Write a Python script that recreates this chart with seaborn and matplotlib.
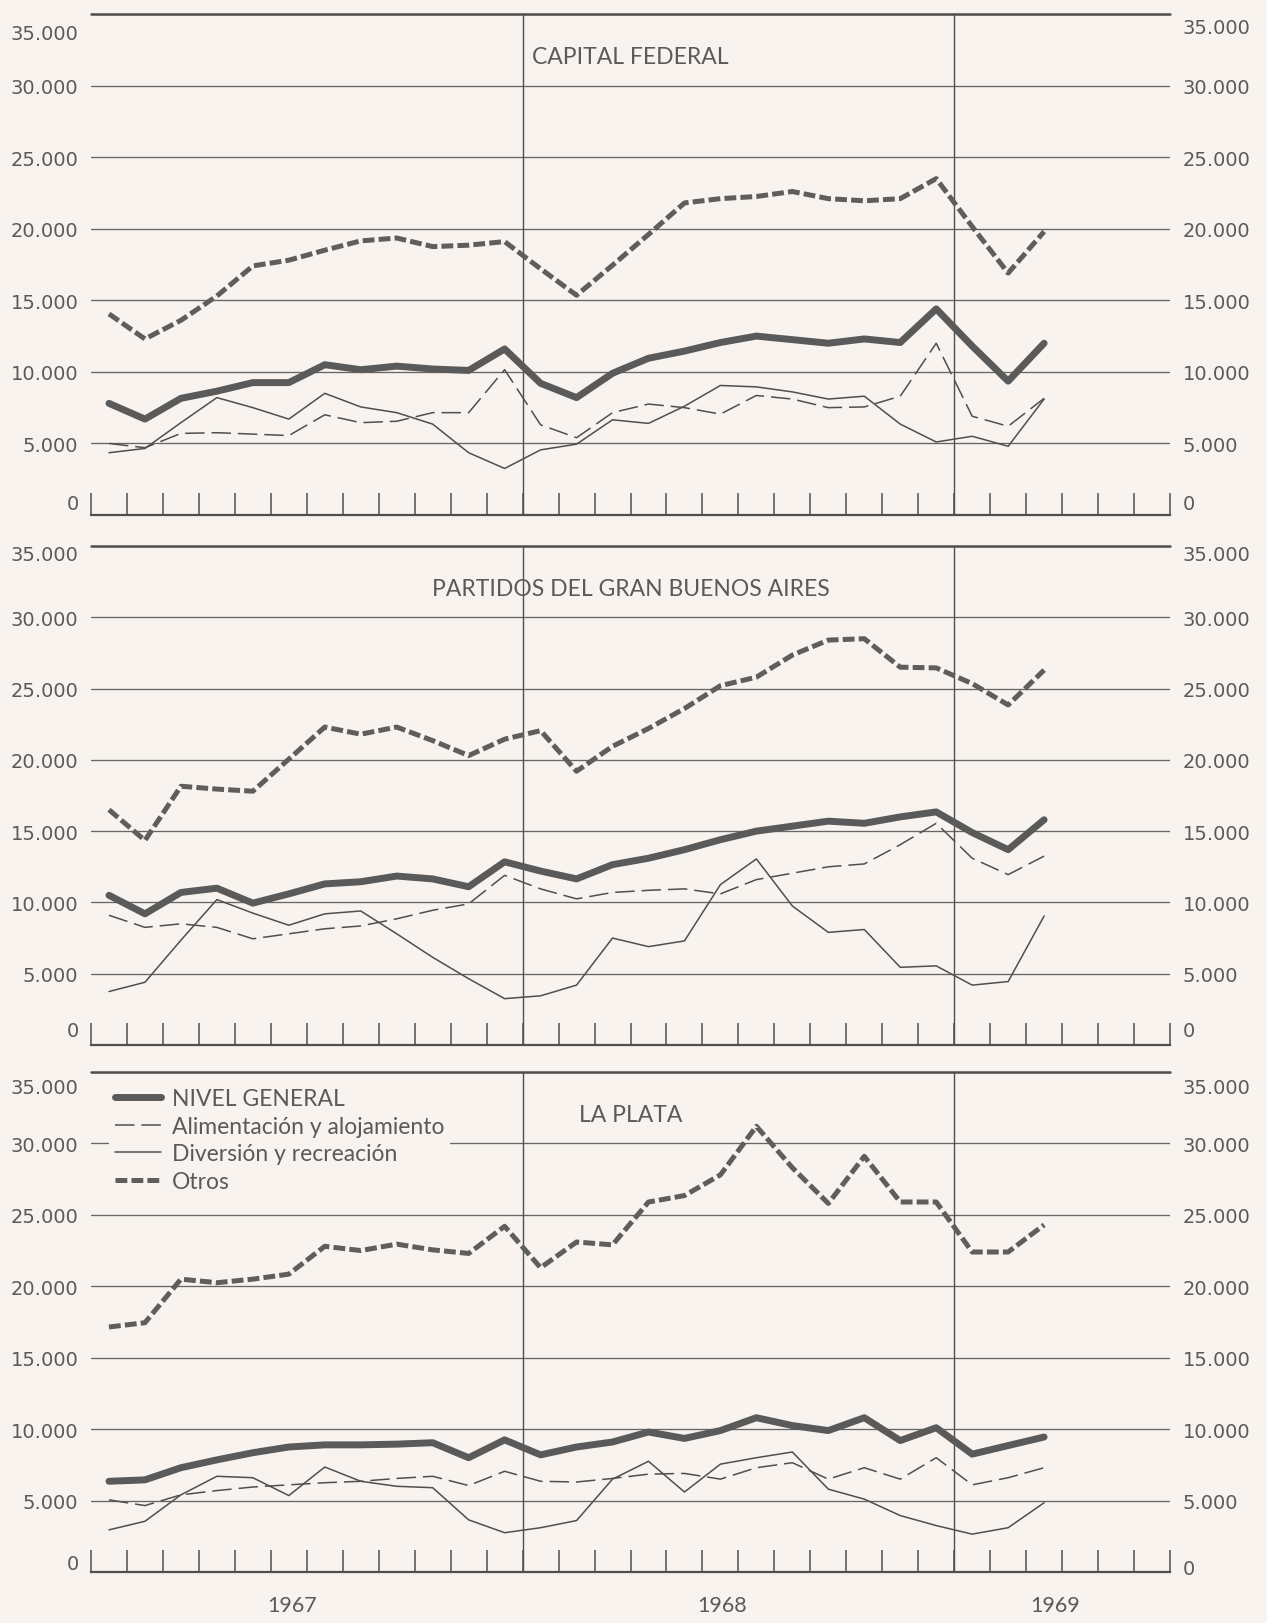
import numpy as np
import pandas as pd
import matplotlib
matplotlib.use("Agg")
import matplotlib.pyplot as plt
import matplotlib.transforms as mtransforms
import seaborn as sns

# ---------------- data ----------------
months = pd.period_range("1967-01", "1969-03", freq="M")

series_names = ["NIVEL GENERAL", "Alimentación y alojamiento",
                "Diversión y recreación", "Otros"]
panel_titles = ["CAPITAL FEDERAL", "PARTIDOS DEL GRAN BUENOS AIRES", "LA PLATA"]
year_labels = ["1967", "1968", "1969"]
y_ticks = [0, 5000, 10000, 15000, 20000, 25000, 30000, 35000]
y_tick_labels = ["0", "5.000", "10.000", "15.000", "20.000", "25.000", "30.000", "35.000"]

# Capital Federal
cf_nivel = [7800, 6700, 8150, 8650, 9250, 9250, 10500, 10150, 10400, 10200, 10100, 11600, 9200, 8200,
            9900, 10950, 11450, 12050, 12500, 12250, 12000, 12300, 12050, 14400, 11800, 9350, 12000]
cf_alim = [5000, 4700, 5700, 5750, 5650, 5550, 7000, 6450, 6550, 7150, 7150, 10150, 6300, 5400,
           7150, 7750, 7500, 7050, 8350, 8100, 7500, 7550, 8300, 12000, 6900, 6200, 8150]
cf_div = [4350, 4650, 6450, 8200, 7500, 6700, 8500, 7550, 7150, 6350, 4350, 3250, 4550, 4950,
          6650, 6400, 7600, 9050, 8950, 8600, 8100, 8300, 6350, 5100, 5500, 4800, 8100]
cf_otros = [14050, 12300, 13600, 15300, 17400, 17800, 18500, 19150, 19350, 18750, 18850, 19100, 17200, 15350,
            17450, 19600, 21800, 22100, 22250, 22600, 22100, 21950, 22100, 23500, 20150, 16900, 19800]

# Partidos del Gran Buenos Aires
gba_nivel = [10500, 9200, 10700, 11000, 9950, 10600, 11300, 11450, 11850, 11650, 11100, 12850, 12200, 11650,
             12650, 13100, 13700, 14400, 15000, 15350, 15700, 15550, 16000, 16350, 14900, 13700, 15800]
gba_alim = [9100, 8250, 8500, 8250, 7450, 7800, 8150, 8350, 8850, 9450, 9900, 11900, 10950, 10250,
            10700, 10850, 10950, 10600, 11600, 12050, 12500, 12700, 14050, 15550, 13100, 11950, 13250]
gba_div = [3750, 4400, 7350, 10200, 9250, 8400, 9200, 9400, 7800, 6150, 4650, 3250, 3450, 4200,
           7500, 6900, 7300, 11250, 13050, 9750, 7900, 8100, 5450, 5550, 4200, 4450, 9050]
gba_otros = [16500, 14350, 18150, 17950, 17800, 20050, 22300, 21800, 22300, 21350, 20300, 21450, 22050, 19200,
             20950, 22200, 23600, 25200, 25800, 27350, 28400, 28500, 26500, 26450, 25350, 23850, 26300]

# La Plata
lp_nivel = [6350, 6450, 7300, 7850, 8350, 8750, 8900, 8900, 8950, 9050, 8000, 9250, 8200, 8750,
            9100, 9800, 9350, 9900, 10800, 10250, 9900, 10800, 9200, 10100, 8250, 8850, 9450]
lp_alim = [5050, 4650, 5400, 5700, 5950, 6100, 6250, 6350, 6550, 6700, 6050, 7050, 6350, 6300,
           6550, 6850, 6900, 6500, 7300, 7650, 6500, 7300, 6500, 8000, 6100, 6600, 7300]
lp_div = [2950, 3550, 5400, 6700, 6600, 5350, 7350, 6350, 6000, 5900, 3650, 2750, 3100, 3600,
          6500, 7750, 5600, 7550, 8000, 8400, 5800, 5100, 3950, 3250, 2650, 3100, 4850]
lp_otros = [17150, 17450, 20500, 20250, 20500, 20850, 22800, 22500, 22950, 22550, 22300, 24200, 21300, 23100,
            22900, 25900, 26350, 27800, 31200, 28300, 25800, 29100, 25900, 25900, 22400, 22400, 24300]

panels = [
    [cf_nivel, cf_alim, cf_div, cf_otros],
    [gba_nivel, gba_alim, gba_div, gba_otros],
    [lp_nivel, lp_alim, lp_div, lp_otros],
]

# ---------------- style ----------------
sns.set_theme(style="white")
plt.rcParams["font.family"] = ["DejaVu Sans"]
plt.rcParams["lines.scale_dashes"] = False

PAPER = "#f8f3ee"
INK = "#4f4f4f"
TXT = "#5a5a5a"
GRID = "#666666"
TITLE_FONT = ["Lato", "DejaVu Sans"]

line_styles = {
    "NIVEL GENERAL": dict(lw=5.0, dashes=None, color="#5a5a5a"),
    "Alimentación y alojamiento": dict(lw=1.1, dashes=(14, 5), color=INK),
    "Diversión y recreación": dict(lw=1.1, dashes=None, color=INK),
    "Otros": dict(lw=3.6, dashes=(8.5, 3), color="#5e5e5e"),
}
draw_order = ["Diversión y recreación", "Alimentación y alojamiento", "NIVEL GENERAL", "Otros"]

W, H = 1267, 1624
fig = plt.figure(figsize=(W / 100, H / 100), dpi=100, facecolor=PAPER)

left_px, right_px = 91, 1170
panel_px = [(15, 516), (547, 1046), (1073, 1573)]
left_top_dy = [18, 7, 14]
left_zero_dy = [-14, -16, -10]
right_top_dy = [12, 7, 14]
right_zero_dy = [-13, -16, -5]

x_month = np.array([(p.year - 1967) * 12 + (p.month - 1) for p in months]) + 0.5

axes = []
for k, (top, bot) in enumerate(panel_px):
    ax = fig.add_axes([left_px / W, 1 - bot / H, (right_px - left_px) / W, (bot - top) / H])
    ax.set_facecolor(PAPER)
    axes.append(ax)
    df = pd.DataFrame({"mes": x_month})
    for name, vals in zip(series_names, panels[k]):
        df[name] = vals

    for name in draw_order:
        st = line_styles[name]
        sns.lineplot(data=df, x="mes", y=name, ax=ax, color=st["color"],
                     linewidth=st["lw"], label=name, legend=False,
                     solid_capstyle="round", solid_joinstyle="round")
        ln = ax.lines[-1]
        if st["dashes"] is not None:
            ln.set_dashes(st["dashes"])
            ln.set_dash_capstyle("butt")
        ln.set_zorder(3)

    ax.set_xlim(0, 30)
    ax.set_ylim(0, 35000)
    ax.set_xlabel("")
    ax.set_ylabel("")

    for s in ["left", "right", "top"]:
        ax.spines[s].set_visible(False)
    ax.spines["bottom"].set_color(INK)
    ax.spines["bottom"].set_linewidth(1.6)

    ax.set_yticks(y_ticks)
    ax.set_yticklabels(y_tick_labels)
    ax.grid(axis="y", color=GRID, linewidth=0.95)
    ax.grid(axis="x", visible=False)
    ax.axhline(35000, color=INK, linewidth=1.8, clip_on=False, zorder=2)
    for xv in (12, 24):
        ax.axvline(xv, color=INK, linewidth=1.0, zorder=2)

    ax.set_xticks(np.arange(0, 31))
    ax.tick_params(axis="x", direction="in", length=16, width=1.1, color=INK,
                   labelbottom=False, bottom=True)
    ax.tick_params(axis="y", left=False, right=False, length=0, labelleft=True, labelright=True,
                   pad=9, labelsize=14, labelcolor=TXT)

    # offset the extreme labels as in the original print
    ticks = ax.yaxis.get_major_ticks()
    def shift(lbl, dy_px):
        lbl.set_transform(lbl.get_transform() +
                          mtransforms.ScaledTranslation(0, -dy_px / 100, fig.dpi_scale_trans))
    shift(ticks[-1].label1, left_top_dy[k])
    shift(ticks[0].label1, left_zero_dy[k])
    shift(ticks[-1].label2, right_top_dy[k])
    shift(ticks[0].label2, right_zero_dy[k])

    ax.text(0.5, 0.915, panel_titles[k], transform=ax.transAxes, ha="center", va="center",
            fontsize=16.5, color=TXT, family=TITLE_FONT)

# legend in La Plata panel (paper-coloured box interrupts the gridline, as in the print)
ax3 = axes[2]
handles = {ln.get_label(): ln for ln in ax3.lines if ln.get_label() in series_names}
leg = ax3.legend([handles[n] for n in series_names], series_names, loc="upper left",
                 bbox_to_anchor=(0.0167, 0.98), frameon=True, borderpad=0.25, borderaxespad=0,
                 handlelength=2.0, handletextpad=0.5, labelspacing=0.3,
                 prop={"family": TITLE_FONT, "size": 16.5})
frame = leg.get_frame()
frame.set_facecolor(PAPER)
frame.set_edgecolor("none")
frame.set_alpha(1)
frame.set_boxstyle("square", pad=0)
for t in leg.get_texts():
    t.set_color(TXT)

# year labels
year_x = [5.6, 17.55, 26.8]
for yx, yl in zip(year_x, year_labels):
    ax3.text(yx, -0.066, yl, transform=ax3.get_xaxis_transform(), ha="center", va="center",
             fontsize=15.5, color=TXT, family=TITLE_FONT)

fig.savefig("out.png", dpi=100, facecolor=PAPER)
